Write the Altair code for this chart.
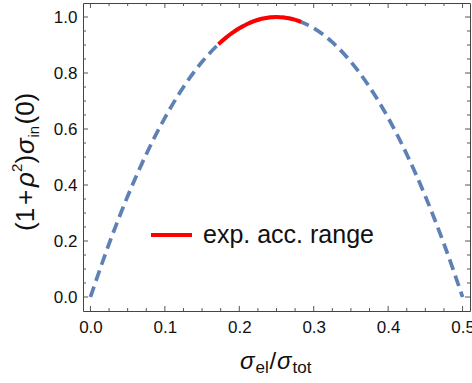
import altair as alt
import pandas as pd

# values
x_vals = [0.0, 0.025, 0.05, 0.075, 0.1, 0.125, 0.15, 0.175, 0.2, 0.225, 0.25,
          0.275, 0.3, 0.325, 0.35, 0.375, 0.4, 0.425, 0.45, 0.475, 0.5]
y_vals = [0.0, 0.19, 0.36, 0.51, 0.64, 0.75, 0.84, 0.91, 0.96, 0.99, 1.0,
          0.99, 0.96, 0.91, 0.84, 0.75, 0.64, 0.51, 0.36, 0.19, 0.0]
red_x = [0.172, 0.19, 0.21, 0.23, 0.25, 0.27, 0.283]
red_y = [0.903, 0.942, 0.974, 0.994, 1.0, 0.994, 0.983]

x_major = [0.0, 0.1, 0.2, 0.3, 0.4, 0.5]
x_minor = [0.025, 0.05, 0.075, 0.125, 0.15, 0.175, 0.225, 0.25, 0.275,
           0.325, 0.35, 0.375, 0.425, 0.45, 0.475]
y_major = [0.0, 0.2, 0.4, 0.6, 0.8, 1.0]
y_minor = [0.05, 0.1, 0.15, 0.25, 0.3, 0.35, 0.45, 0.5, 0.55, 0.65, 0.7,
           0.75, 0.85, 0.9, 0.95]
legend_label = "exp. acc. range"

W, H = 387, 308
FONT = "Liberation Sans"
FRAME = "#444444"
TICK = "#555555"

xscale = alt.Scale(domain=[-0.01, 0.51], nice=False, zero=False)
yscale = alt.Scale(domain=[-0.05, 1.05], nice=False, zero=False)

X_ENC = alt.X("x:Q", scale=xscale,
              axis=alt.Axis(values=x_major, format=".1f", ticks=False, domain=False,
                            grid=False, labelFontSize=17, labelFont=FONT,
                            labelColor="#111111", labelPadding=8, title=None))
Y_ENC = alt.Y("y:Q", scale=yscale,
              axis=alt.Axis(values=y_major, format=".1f", ticks=False, domain=False,
                            grid=False, labelFontSize=17, labelFont=FONT,
                            labelColor="#111111", labelPadding=6, title=None))

curve = pd.DataFrame({"x": x_vals, "y": y_vals})
red = pd.DataFrame({"x": red_x, "y": red_y})

blue_line = alt.Chart(curve).mark_line(
    color="#5e81b5", strokeWidth=3.7, strokeDash=[11, 6], interpolate="monotone"
).encode(x=X_ENC, y=Y_ENC)

red_line = alt.Chart(red).mark_line(
    color="#ff0000", strokeWidth=4, interpolate="monotone"
).encode(x=X_ENC, y=Y_ENC)

layers = [blue_line, red_line]

def xticks(vals, length):
    df = pd.DataFrame({"x": vals})
    bot = alt.Chart(df).mark_rule(color=TICK, strokeWidth=1).encode(
        x=X_ENC, y=alt.value(H), y2=alt.value(H - length))
    top = alt.Chart(df).mark_rule(color=TICK, strokeWidth=1).encode(
        x=X_ENC, y=alt.value(0), y2=alt.value(length))
    return [bot, top]

def yticks(vals, length):
    df = pd.DataFrame({"y": vals})
    left = alt.Chart(df).mark_rule(color=TICK, strokeWidth=1).encode(
        y=Y_ENC, x=alt.value(0), x2=alt.value(length))
    right = alt.Chart(df).mark_rule(color=TICK, strokeWidth=1).encode(
        y=Y_ENC, x=alt.value(W), x2=alt.value(W - length))
    return [left, right]

layers += xticks(x_major, 5) + xticks(x_minor, 3) + yticks(y_major, 5) + yticks(y_minor, 3)

one = pd.DataFrame({"k": [0]})

def piece(text, x, y, size, italic=False, angle=0):
    kw = dict(text=text, font=FONT, fontSize=size, align="left",
              baseline="alphabetic", color="#111111")
    if italic:
        kw["fontStyle"] = "italic"
    if angle:
        kw["angle"] = angle
    return alt.Chart(one).mark_text(**kw).encode(x=alt.value(x), y=alt.value(y))

# y title pieces (rotated, reading upward)
layers += [
    piece("(1", -49, 228, 26, angle=270),
    piece("+", -49, 202, 26, angle=270),
    piece("ρ", -49, 184, 26, italic=True, angle=270),
    piece("2", -61, 169, 15, angle=270),
    piece(")", -49, 160.5, 26, angle=270),
    piece("σ", -49, 151, 26, italic=True, angle=270),
    piece("in", -44, 134.5, 15, angle=270),
    piece("(0)", -49, 121.5, 26, angle=270),
]

# x title pieces
layers += [
    piece("σ", 157, 366, 24, italic=True),
    piece("el", 172.5, 370, 17),
    piece("/", 186.5, 366, 24),
    piece("σ", 194, 366, 24, italic=True),
    piece("tot", 209.5, 370, 17),
]

# legend
leg_line = alt.Chart(one).mark_rule(color="#ff0000", strokeWidth=4).encode(
    x=alt.value(68), x2=alt.value(109), y=alt.value(232))
leg_text = piece(legend_label, 120, 240, 25)
layers += [leg_line, leg_text]

chart = alt.layer(*layers).properties(
    width=W, height=H,
    padding={"left": 83, "top": 3, "right": 2, "bottom": 72},
    autosize="none",
).configure_view(stroke=FRAME, strokeWidth=1)

chart.save("out.html", embed_options={"renderer": "svg", "actions": False})
